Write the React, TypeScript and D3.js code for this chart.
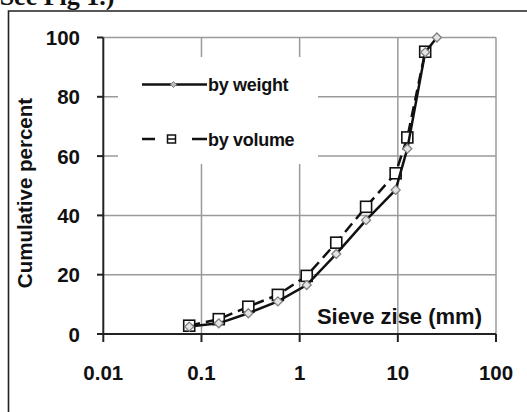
import React from "react";
import * as d3 from "d3";

// Sieve openings (mm) and cumulative percent passing
const sieveSizes = [0.075, 0.15, 0.3, 0.6, 1.18, 2.36, 4.75, 9.5, 12.5, 19, 25];
const byWeight = [2.5, 3.6, 7, 11, 16.5, 27, 38.4, 48.6, 62.5, 95, 100];
const byVolume = [2.8, 5, 9.2, 13.2, 19.6, 30.8, 42.9, 54.2, 66.3, 95.2];
const xTicks = [0.01, 0.1, 1, 10, 100];
const xTickLabels = ["0.01", "0.1", "1", "10", "100"];
const yTicks = [0, 20, 40, 60, 80, 100];

const W = 527;
const H = 412;
const FONT = "'Liberation Sans', Arial, sans-serif";
const INK = "#111";

export default function App() {
  const x = d3.scaleLog().domain([0.01, 100]).range([103.3, 496]);
  const y = d3.scaleLinear().domain([0, 100]).range([334, 37.5]);

  const weightPts = sieveSizes.map((s, i) => [s, byWeight[i]] as [number, number]);
  const volumePts = byVolume.map((v, i) => [sieveSizes[i], v] as [number, number]);
  const line = d3
    .line<[number, number]>()
    .x((d) => x(d[0]))
    .y((d) => y(d[1]));

  const diamond = (cx: number, cy: number, r: number) =>
    `M${cx},${cy - r}L${cx + r},${cy}L${cx},${cy + r}L${cx - r},${cy}Z`;

  return (
    <svg
      width={W}
      height={H}
      style={{ position: "absolute", left: 0, top: 0, background: "#fff" }}
    >
      <rect x={0} y={0} width={W} height={H} fill="#fff" />
      {/* caption fragment above the frame */}
      <text
        x={-9}
        y={5}
        fontFamily="'Liberation Serif', 'Times New Roman', serif"
        fontWeight="bold"
        fontSize={26}
        fill={INK}
      >
        (See Fig 1.)
      </text>
      {/* outer frame */}
      <path d={`M8.5,${H + 2}V11H${W + 2}`} fill="none" stroke="#222" strokeWidth={1.6} />

      {/* gridlines */}
      {yTicks.slice(1).map((t) => (
        <line key={"gy" + t} x1={x(0.01)} x2={x(100)} y1={y(t)} y2={y(t)} stroke="#9a9a9a" strokeWidth={1.5} />
      ))}
      {xTicks.slice(1).map((t) => (
        <line key={"gx" + t} x1={x(t)} x2={x(t)} y1={y(100)} y2={y(0)} stroke="#9a9a9a" strokeWidth={1.5} />
      ))}

      {/* legend background */}
      <rect x={118} y={57} width={200} height={107} fill="#fff" />

      {/* axes */}
      <line x1={x(0.01)} x2={x(0.01)} y1={y(100)} y2={y(0)} stroke="#222" strokeWidth={2} />
      <line x1={97} x2={x(100)} y1={y(0)} y2={y(0)} stroke="#222" strokeWidth={2} />
      {yTicks.map((t) => (
        <line key={"ty" + t} x1={97} x2={x(0.01)} y1={y(t)} y2={y(t)} stroke="#222" strokeWidth={2} />
      ))}
      {xTicks.map((t) => (
        <line key={"tx" + t} x1={x(t)} x2={x(t)} y1={y(0)} y2={y(0) + 8} stroke="#222" strokeWidth={2} />
      ))}

      {/* tick labels */}
      {yTicks.map((t) => (
        <text
          key={"ly" + t}
          x={80}
          y={y(t) + 7.5}
          textAnchor="end"
          fontFamily={FONT}
          fontWeight="bold"
          fontSize={20.5}
          fill={INK}
        >
          {t}
        </text>
      ))}
      {xTicks.map((t, i) => (
        <text
          key={"lx" + t}
          x={x(t)}
          y={380}
          textAnchor="middle"
          fontFamily={FONT}
          fontWeight="bold"
          fontSize={20.5}
          fill={INK}
        >
          {xTickLabels[i]}
        </text>
      ))}

      {/* axis titles */}
      <text
        transform="translate(32,193) rotate(-90)"
        textAnchor="middle"
        fontFamily={FONT}
        fontWeight="bold"
        fontSize={20.5}
        fill={INK}
      >
        Cumulative percent
      </text>
      <text x={482} y={324} textAnchor="end" fontFamily={FONT} fontWeight="bold" fontSize={22} fill={INK}>
        Sieve zise (mm)
      </text>

      {/* by volume: dashed with squares */}
      <path d={line(volumePts) ?? ""} fill="none" stroke="#111" strokeWidth={2.5} strokeDasharray="11,6" />
      {volumePts.map((d, i) => (
        <rect
          key={"sq" + i}
          x={x(d[0]) - 5.5}
          y={y(d[1]) - 5.5}
          width={11}
          height={11}
          fill="#fff"
          stroke="#111"
          strokeWidth={1.6}
        />
      ))}

      {/* by weight: solid with diamonds */}
      <path d={line(weightPts) ?? ""} fill="none" stroke="#111" strokeWidth={2.5} />
      {weightPts.map((d, i) => (
        <path key={"dm" + i} d={diamond(x(d[0]), y(d[1]), 4.5)} fill="#e4e4e4" stroke="#808080" strokeWidth={1.3} />
      ))}

      {/* legend */}
      <line x1={142} x2={207} y1={84.5} y2={84.5} stroke="#111" strokeWidth={2.5} />
      <path d={diamond(173.5, 84.5, 3)} fill="#bbb" stroke="#808080" strokeWidth={1} />
      <text x={208} y={91} fontFamily={FONT} fontWeight="bold" fontSize={18} letterSpacing={-0.3} fill={INK}>
        by weight
      </text>
      <line x1={142} x2={207} y1={139} y2={139} stroke="#111" strokeWidth={2.5} strokeDasharray="13,37,15" />
      <rect x={167.5} y={135} width={8} height={8} fill="#fff" stroke="#111" strokeWidth={1.5} />
      <line x1={168} x2={175} y1={139} y2={139} stroke="#111" strokeWidth={1.5} />
      <text x={208} y={145.5} fontFamily={FONT} fontWeight="bold" fontSize={18} letterSpacing={-0.3} fill={INK}>
        by volume
      </text>
    </svg>
  );
}
